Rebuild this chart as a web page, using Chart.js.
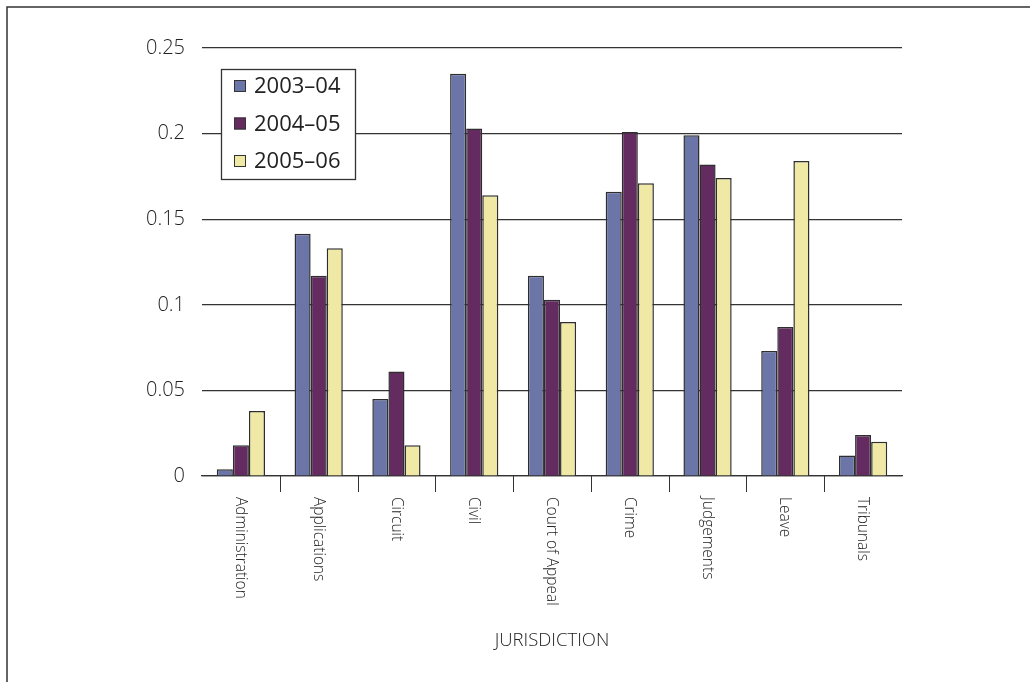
<!DOCTYPE html>
<html>
<head>
<meta charset="utf-8">
<script src="https://cdn.jsdelivr.net/npm/chart.js@4/dist/chart.umd.min.js"></script>
<style>
  html, body { margin: 0; padding: 0; background: #fff; }
  #wrap { width: 1030px; height: 682px; position: relative; }
</style>
</head>
<body>
<div id="wrap"><canvas id="c" width="1030" height="682"></canvas></div>
<script>
// Jurisdictions along the x axis
const categories = ['Administration', 'Applications', 'Circuit', 'Civil', 'Court of Appeal',
                    'Crime', 'Judgements', 'Leave', 'Tribunals'];

// Series, one value per jurisdiction
const series2003_04 = [0.004, 0.1415, 0.045, 0.235, 0.117, 0.166, 0.199, 0.073, 0.012];
const series2004_05 = [0.018, 0.117, 0.061, 0.203, 0.103, 0.201, 0.182, 0.087, 0.024];
const series2005_06 = [0.038, 0.133, 0.018, 0.164, 0.090, 0.171, 0.174, 0.184, 0.020];

const seriesLabels = ['2003\u201304', '2004\u201305', '2005\u201306'];
const yTicks = [0, 0.05, 0.1, 0.15, 0.2, 0.25];
const yTickText = ['0', '0.05', '0.1', '0.15', '0.2', '0.25'];
const axisTitle = 'JURISDICTION';

const FONT = '"Open Sans", "Noto Sans", sans-serif';
const INK = '#222';

// Frame, rotated category labels, between-category tick marks, axis title and legend box
const decorations = {
  id: 'decorations',
  beforeDraw(chart) {
    const ctx = chart.ctx;
    ctx.save();
    ctx.strokeStyle = '#333';
    ctx.lineWidth = 1.5;
    ctx.beginPath();
    ctx.moveTo(1030, 7);
    ctx.lineTo(7, 7);
    ctx.lineTo(7, 682);
    ctx.stroke();
    ctx.restore();
  },
  afterDraw(chart) {
    const ctx = chart.ctx;
    const x = chart.scales.x;
    const area = chart.chartArea;
    ctx.save();
    // tick marks between categories
    ctx.strokeStyle = '#333';
    ctx.lineWidth = 1;
    for (let i = 1; i < categories.length; i++) {
      const px = Math.round((x.getPixelForTick(i - 1) + x.getPixelForTick(i)) / 2) + 0.5;
      ctx.beginPath();
      ctx.moveTo(px, area.bottom);
      ctx.lineTo(px, area.bottom + 16);
      ctx.stroke();
    }
    // category labels, reading downward, slightly condensed
    ctx.fillStyle = INK;
    ctx.font = '300 17px ' + FONT;
    ctx.textAlign = 'left';
    ctx.textBaseline = 'middle';
    categories.forEach((lab, i) => {
      const px = x.getPixelForTick(i);
      ctx.save();
      ctx.translate(px, area.bottom + 21);
      ctx.rotate(Math.PI / 2);
      ctx.scale(0.91, 1);
      ctx.fillText(lab, 0, 0);
      ctx.restore();
    });
    // axis title
    ctx.font = '300 18.5px ' + FONT;
    ctx.textAlign = 'center';
    ctx.textBaseline = 'middle';
    ctx.fillText(axisTitle, (area.left + area.right) / 2, 641);

    // legend box
    const bx = 221, by = 69, bw = 134, bh = 110;
    ctx.fillStyle = '#fff';
    ctx.fillRect(bx, by, bw, bh);
    ctx.strokeStyle = '#333';
    ctx.lineWidth = 1.3;
    ctx.strokeRect(bx + 0.5, by + 0.5, bw, bh);
    chart.data.datasets.forEach((ds, i) => {
      const cy = 86 + i * 37.5;
      ctx.fillStyle = ds.backgroundColor;
      ctx.fillRect(234, cy - 6, 12, 12);
      ctx.strokeStyle = '#333';
      ctx.lineWidth = 1;
      ctx.strokeRect(234.5, cy - 5.5, 11, 11);
      ctx.fillStyle = INK;
      ctx.font = '22px ' + FONT;
      ctx.textAlign = 'left';
      ctx.textBaseline = 'middle';
      ctx.fillText(ds.label, 254, cy + 1);
    });
    ctx.restore();
  }
};

new Chart(document.getElementById('c'), {
  type: 'bar',
  data: {
    labels: categories,
    datasets: [
      { label: seriesLabels[0], data: series2003_04, backgroundColor: '#6c75a8' },
      { label: seriesLabels[1], data: series2004_05, backgroundColor: '#632b60' },
      { label: seriesLabels[2], data: series2005_06, backgroundColor: '#f0e9a5' }
    ].map(d => Object.assign(d, { borderColor: '#2e2e2e', borderWidth: 1.5, borderSkipped: 'bottom' }))
  },
  options: {
    responsive: false,
    animation: false,
    devicePixelRatio: 1,
    layout: { padding: { top: 48, right: 128, left: 0, bottom: 0 } },
    datasets: { bar: { barPercentage: 1, categoryPercentage: 0.62 } },
    plugins: { legend: { display: false }, tooltip: { enabled: false } },
    scales: {
      x: {
        type: 'category',
        offset: true,
        grid: { display: false },
        border: { display: true, color: '#333', width: 1.3 },
        ticks: { display: false },
        afterFit(s) { s.height = 206; }
      },
      y: {
        min: 0,
        max: 0.25,
        afterBuildTicks(s) { s.ticks = yTicks.map(v => ({ value: v })); },
        grid: { color: '#333', lineWidth: 1.2, drawTicks: false },
        border: { display: false },
        ticks: {
          padding: 17,
          color: INK,
          font: { family: FONT, size: 20, weight: '300' },
          callback: (v, i) => yTickText[i]
        },
        afterFit(s) { s.width = 202; }
      }
    }
  },
  plugins: [decorations]
});
</script>
</body>
</html>
